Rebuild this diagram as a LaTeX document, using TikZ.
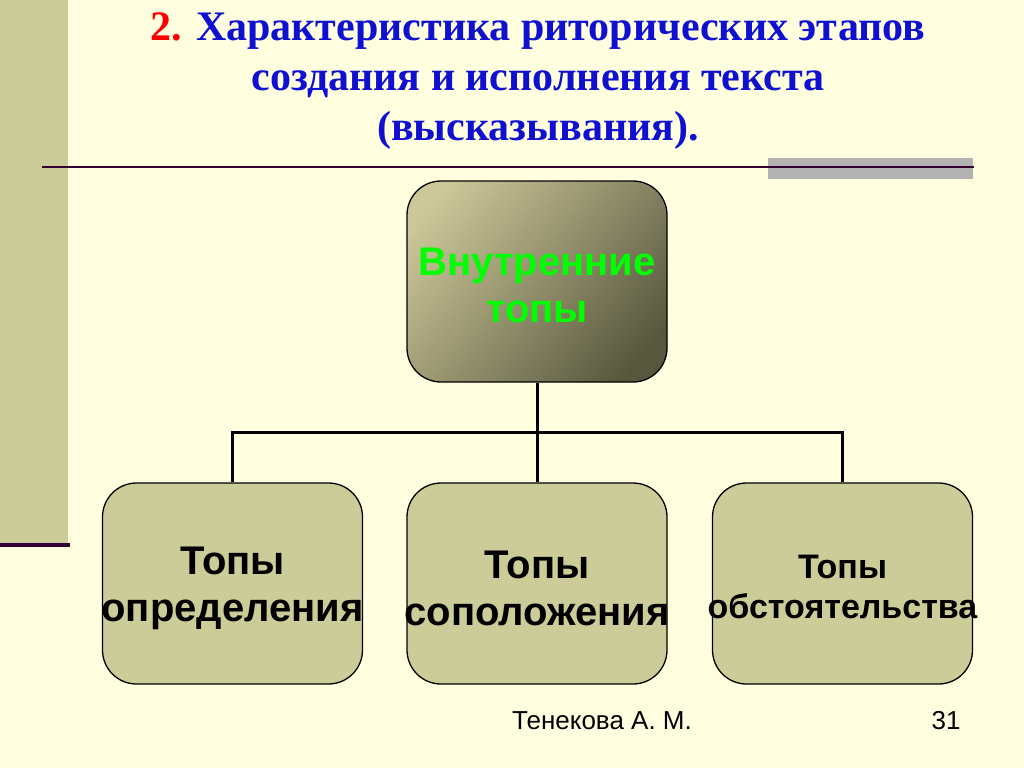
\documentclass[tikz,border=0pt]{standalone}
\usepackage{fontspec}
\setmainfont{Liberation Serif}
\newfontfamily\arialfont{Liberation Sans}
\definecolor{bg}{RGB}{255,255,224}
\definecolor{olive}{RGB}{204,204,153}
\definecolor{darkline}{RGB}{51,0,51}
\definecolor{grayrect}{RGB}{178,178,178}
\definecolor{titleblue}{RGB}{16,16,208}
\definecolor{greentext}{RGB}{0,255,0}
\pgfdeclarehorizontalshading{topgrad}{100bp}{%
  rgb(0bp)=(0.80,0.78,0.60); rgb(22bp)=(0.80,0.78,0.60);
  rgb(78bp)=(0.34,0.34,0.24); rgb(100bp)=(0.34,0.34,0.24)}
\tikzset{
  box/.style={rectangle, rounded corners=34pt, draw=black, line width=1.3pt,
    minimum width=260pt, minimum height=201pt, inner sep=0pt},
  leafbox/.style={box, fill=olive},
  boxtext/.style={align=center, inner sep=0pt, text=black,
    font=\arialfont\bfseries\fontsize{40}{47}\selectfont},
  conn/.style={line width=3pt, draw=black},
}
\begin{document}
\begin{tikzpicture}[x=1pt,y=-1pt]
\useasboundingbox (0,0) rectangle (1024,768);
\fill[bg] (0,0) rectangle (1024,768);
\fill[olive] (0,0) rectangle (68,543);
\draw[darkline, line width=4pt] (0,545) -- (70,545);
\fill[grayrect] (768,158) rectangle (973,179);
\draw[darkline, line width=2.2pt] (42,167) -- (974,167);
% title
\node[font=\bfseries\fontsize{42}{50}\selectfont, text=titleblue, align=center] (title) at (538,81)
  {\textcolor{red}{2.} Характеристика риторических этапов\\создания и исполнения текста\\(высказывания).};
% top box
\node[box, shading=topgrad, shading angle=-40,
  label={[boxtext, text=greentext, yshift=-4pt]center:Внутренние\\топы}] (top) at (537,281.5) {};
\node[leafbox, label={[boxtext, yshift=-5pt]center:Топы\\определения}] (b1) at (232.5,583.5) {};
\node[leafbox, label={[boxtext, yshift=-5pt]center:Топы\\соположения}] (b2) at (537,583.5) {};
\node[leafbox, label={[boxtext, font=\arialfont\bfseries\fontsize{34}{40}\selectfont, yshift=-3pt]center:Топы\\обстоятельства}] (b3) at (842.5,583.5) {};
% connectors
\coordinate (j) at (537,432);
\draw[conn] (top.south) -- (j);
\draw[conn] (j) -| (b1.north);
\draw[conn] (j) -| (b3.north);
\draw[conn] (j) -- (b2.north);
% footer
\node[font=\arialfont\fontsize{26}{30}\selectfont] (author) at (602,721) {Тенекова А. М.};
\node[font=\arialfont\fontsize{26}{30}\selectfont] (page) at (946,721) {31};
\end{tikzpicture}
\end{document}
